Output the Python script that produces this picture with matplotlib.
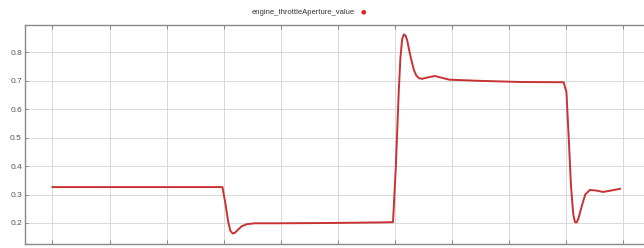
import matplotlib.pyplot as plt

# throttle aperture trace (x in grid units)
t = [1.00, 3.98, 4.03, 4.08, 4.12, 4.16, 4.20, 4.25, 4.32, 4.41, 4.55, 4.99,
     5.86, 6.74, 6.97, 7.02, 7.07, 7.10, 7.13, 7.16, 7.19, 7.22, 7.26, 7.30,
     7.34, 7.38, 7.43, 7.48, 7.58, 7.70, 7.82, 7.96, 8.49, 9.19, 9.96, 10.01,
     10.05, 10.09, 10.13, 10.16, 10.19, 10.22, 10.28, 10.34, 10.42, 10.53,
     10.65, 10.77, 10.95]
throttle = [0.326, 0.326, 0.27, 0.205, 0.172, 0.163, 0.166, 0.176, 0.189, 0.196,
            0.199, 0.199, 0.200, 0.202, 0.203, 0.40, 0.66, 0.78, 0.845, 0.862,
            0.858, 0.84, 0.80, 0.765, 0.735, 0.717, 0.708, 0.706, 0.711, 0.716,
            0.710, 0.703, 0.699, 0.695, 0.694, 0.66, 0.50, 0.33, 0.23, 0.203,
            0.202, 0.215, 0.26, 0.30, 0.316, 0.314, 0.309, 0.313, 0.320]
yticks = [0.2, 0.3, 0.4, 0.5, 0.6, 0.7, 0.8]
xgrid = list(range(1, 12))
label = 'engine_throttleAperture_value'
red = '#c83232'

plt.rcParams['font.family'] = ['Liberation Sans', 'DejaVu Sans']

fig = plt.figure(figsize=(6.44, 2.48), dpi=100)
ax = fig.add_axes([24.7 / 644, 1 - 243.5 / 248, 1 - 24.7 / 644, (243.5 - 25) / 248])
ax.plot(t, throttle, color=red, lw=1.4, solid_joinstyle='round')

ax.set_xlim(0.513, 11.37)
ax.set_ylim(0.128, 0.895)
ax.set_xticks(xgrid)
ax.set_yticks(yticks)
ax.set_yticklabels([str(v) for v in yticks])
ax.tick_params(axis='x', direction='in', length=3, width=0.6, color='#777777',
               top=True, labelbottom=False)
ax.tick_params(axis='y', direction='in', length=2, width=0.6, color='#777777',
               labelsize=6, labelcolor='#555555', pad=2)
ax.grid(True, color='#d8d8d8', lw=0.7)
for s in ax.spines.values():
    s.set_color('#888888')
    s.set_linewidth(1.0)
ax.spines['right'].set_visible(False)

fig.text(303 / 644, 1 - 13 / 248, label, ha='center', va='center',
         fontsize=5.5, color='#333333')
fig.text(363 / 644, 1 - 12 / 248, '\u25cf', ha='center', va='center',
         fontsize=4.5, color='#dd2222', family='DejaVu Sans')

fig.savefig('out.png', dpi=100)
